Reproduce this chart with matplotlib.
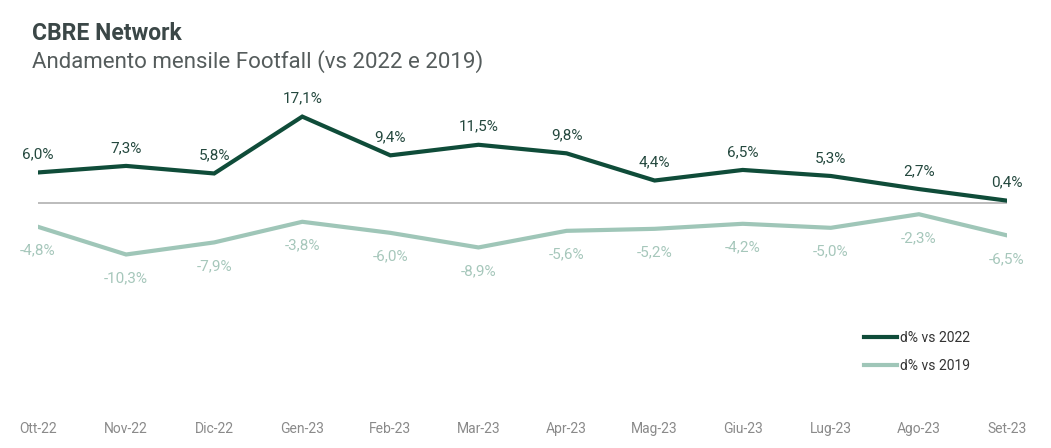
import numpy as np
import matplotlib
matplotlib.use("Agg")
import matplotlib.pyplot as plt

plt.rcParams["font.family"] = ["Roboto", "DejaVu Sans"]

# data
months = ["Ott-22", "Nov-22", "Dic-22", "Gen-23", "Feb-23", "Mar-23",
          "Apr-23", "Mag-23", "Giu-23", "Lug-23", "Ago-23", "Set-23"]
vs_2022 = [6.0, 7.3, 5.8, 17.1, 9.4, 11.5, 9.8, 4.4, 6.5, 5.3, 2.7, 0.4]
vs_2019 = [-4.8, -10.3, -7.9, -3.8, -6.0, -8.9, -5.6, -5.2, -4.2, -5.0, -2.3, -6.5]

dark = "#0f4c39"
light = "#9fc6b8"
dark_txt = "#24483e"
light_txt = "#a6c7bb"

fig = plt.figure(figsize=(10.51, 4.48), dpi=100)
ax = fig.add_axes([38 / 1051, 39 / 448, 969 / 1051, 307 / 448])

x = np.arange(len(months))
ax.axhline(0, color="#b0b0b0", linewidth=1.2, zorder=1)
ax.plot(x, vs_2022, color=dark, linewidth=3, label="d% vs 2022", zorder=3,
        solid_joinstyle="miter")
ax.plot(x, vs_2019, color=light, linewidth=3, label="d% vs 2019", zorder=2,
        solid_joinstyle="miter")


def fmt(v):
    return f"{v:.1f}%".replace(".", ",")


for xi, v in zip(x, vs_2022):
    ax.annotate(fmt(v), (xi, v), xytext=(0, 13), textcoords="offset points",
                ha="center", va="center", fontsize=11, color=dark_txt)
for xi, v in zip(x, vs_2019):
    ax.annotate(fmt(v), (xi, v), xytext=(0, -17), textcoords="offset points",
                ha="center", va="center", fontsize=11, color=light_txt)

ax.set_xlim(0, 11)
ax.set_ylim(-41, 20)
ax.set_xticks(x)
ax.set_xticklabels(months, fontsize=10, color="#8a8a8a")
ax.tick_params(axis="x", length=0, pad=9)
ax.set_yticks([])
for s in ax.spines.values():
    s.set_visible(False)

ax.legend(loc="upper left", bbox_to_anchor=(864 / 1051, 1 - 331 / 448),
          bbox_transform=fig.transFigure, frameon=False, fontsize=10,
          handlelength=2.4, handletextpad=0.2, labelspacing=1.0,
          borderpad=0, borderaxespad=0, labelcolor="#333333")

fig.text(32 / 1051, 1 - 34 / 448, "CBRE Network", fontsize=16.5, fontweight="bold",
         color="#3b4747", va="center")
fig.text(32 / 1051, 1 - 62 / 448, "Andamento mensile Footfall (vs 2022 e 2019)",
         fontsize=16, color="#555c5c", va="center")

fig.savefig("out.png", dpi=100)
